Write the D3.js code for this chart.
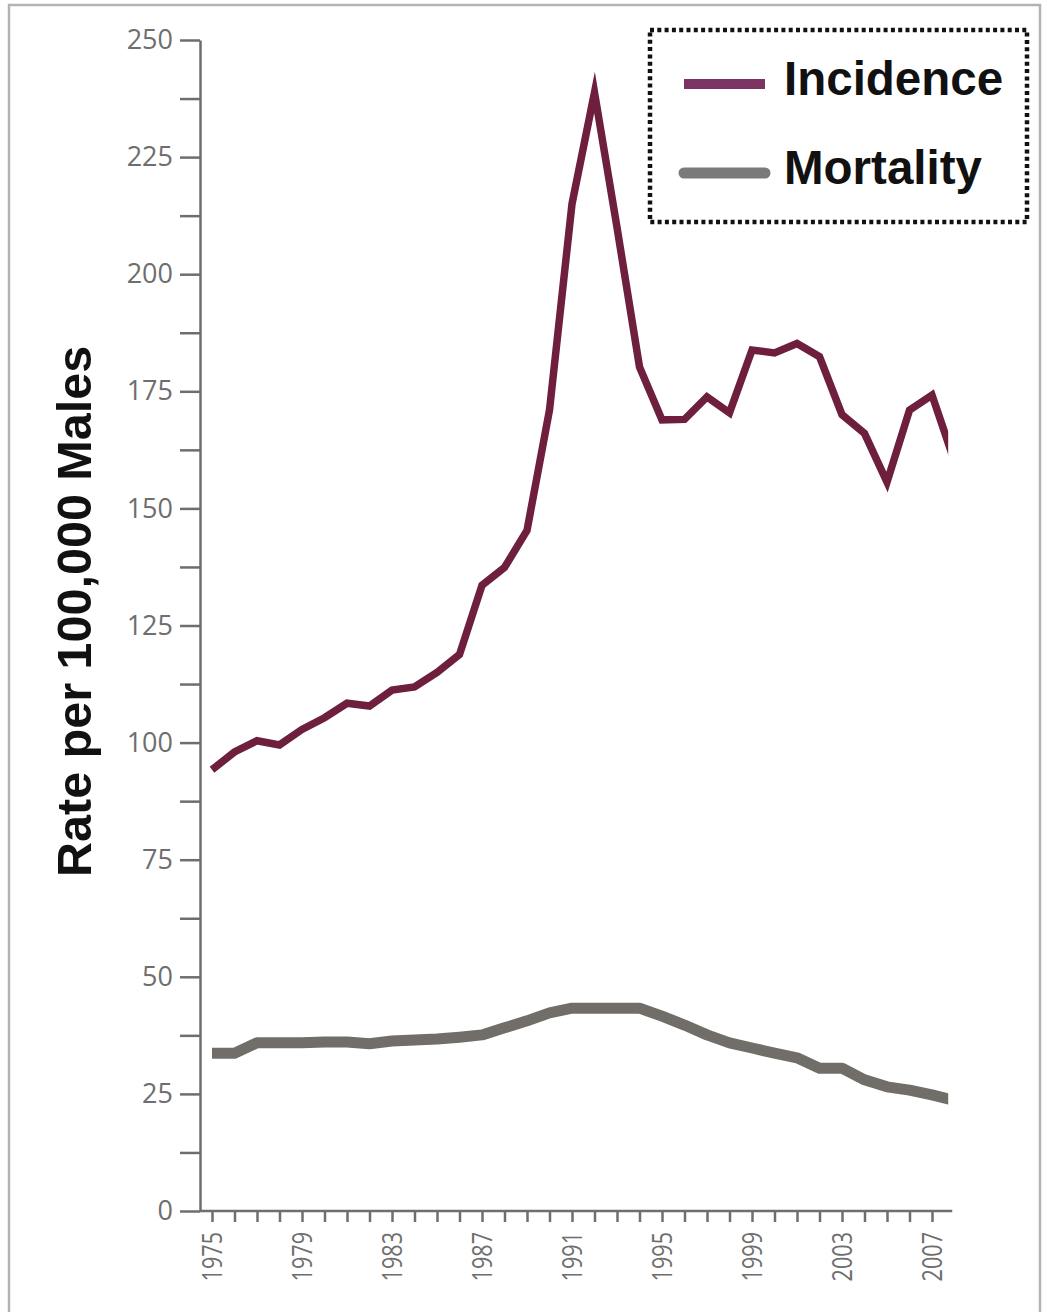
<!DOCTYPE html>
<html>
<head>
<meta charset="utf-8">
<script src="https://cdn.jsdelivr.net/npm/d3@7"></script>
<style>
  body { margin: 0; background: #fff; }
</style>
</head>
<body>
<div id="chart"></div>
<script>
// chart values
var years = d3.range(1975, 2009);
var incidence = [94.2, 98.0, 100.4, 99.5, 102.8, 105.3, 108.4, 107.8, 111.2, 111.9,
    115.0, 118.8, 133.6, 137.4, 145.3, 171.0, 215.0, 238.8, 210.0, 180.2,
    168.9, 169.0, 173.8, 170.4, 183.8, 183.2, 185.2, 182.4, 170.0, 166.0,
    155.6, 171.0, 174.2, 160.0];
var mortality = [33.7, 33.7, 35.9, 35.9, 35.9, 36.1, 36.1, 35.7, 36.3, 36.5,
    36.7, 37.1, 37.6, 39.1, 40.6, 42.3, 43.3, 43.3, 43.3, 43.3,
    41.6, 39.7, 37.6, 35.9, 34.8, 33.7, 32.7, 30.5, 30.5, 28.0,
    26.5, 25.8, 24.8, 23.6];
var yTicks = d3.range(0, 251, 12.5);
var xTicks = d3.range(1975, 2008);
var legendLabels = ["Incidence", "Mortality"];

(() => {

    var W = 1047, H = 1312;
    var axisColor = "#6e6e6e";
    var seriesColors = ["#6d1f3d", "#716d69"];
    var legendColors = ["#7b3462", "#7a7a7a"];

    var svg = d3.select("#chart")
        .append("svg")
        .attr("width", W)
        .attr("height", H);

    // outer frame of the figure
    svg.append("rect")
        .attr("x", 9).attr("y", 5)
        .attr("width", 1031).attr("height", H + 20)
        .attr("fill", "none")
        .attr("stroke", "#b3b3b3")
        .attr("stroke-width", 2.5);

    var x = d3.scaleLinear()
        .domain([1975, 2008])
        .range([212, 954.5]);

    var y = d3.scaleLinear()
        .domain([0, 250])
        .range([1211, 40]);

    var axisX0 = 200;

    // y axis
    var yAxis = svg.append("g")
        .attr("transform", "translate(" + axisX0 + ",0)")
        .call(d3.axisLeft(y)
            .tickValues(yTicks)
            .tickSize(20)
            .tickSizeOuter(0)
            .tickPadding(7)
            .tickFormat(function (d) { return d % 25 === 0 ? d : ""; }));

    yAxis.select(".domain").attr("stroke", axisColor).attr("stroke-width", 2.5);
    yAxis.selectAll(".tick line").attr("stroke", axisColor).attr("stroke-width", 2.5);
    yAxis.selectAll(".tick text")
        .attr("fill", axisColor)
        .style("font-family", "'Open Sans', sans-serif")
        .style("font-size", "27px");

    // x axis
    var xAxis = svg.append("g")
        .attr("transform", "translate(0," + y(0) + ")")
        .call(d3.axisBottom(x)
            .tickValues(xTicks)
            .tickSize(11)
            .tickSizeOuter(0)
            .tickFormat(function (d) { return (d - 1975) % 4 === 0 ? d : ""; }));

    xAxis.select(".domain").remove();
    xAxis.append("line")
        .attr("x1", axisX0)
        .attr("x2", x(2007.9))
        .attr("stroke", axisColor)
        .attr("stroke-width", 2.5);
    xAxis.selectAll(".tick line").attr("stroke", axisColor).attr("stroke-width", 2.5);
    xAxis.selectAll(".tick text")
        .attr("x", 0)
        .attr("y", 0)
        .attr("dy", "0.35em")
        .attr("transform", "translate(0,21) rotate(-90) scale(0.8,1)")
        .attr("fill", axisColor)
        .style("text-anchor", "end")
        .style("font-family", "'Open Sans', sans-serif")
        .style("font-size", "27px");

    // axis title
    svg.append("text")
        .text("Rate per 100,000 Males")
        .attr("transform", "translate(91," + (y(128)) + ") rotate(-90)")
        .style("text-anchor", "middle")
        .style("font-family", "'Liberation Sans', Arial, sans-serif")
        .style("font-weight", "bold")
        .style("font-size", "48.5px")
        .attr("fill", "#111");

    // lines end a little before 2008 in the original
    svg.append("clipPath")
        .attr("id", "plotclip")
        .append("rect")
        .attr("x", axisX0)
        .attr("y", 0)
        .attr("width", x(2007.72) - axisX0)
        .attr("height", H);

    var line = d3.line()
        .x(function (d) { return x(d.year); })
        .y(function (d) { return y(d.value); });

    var mortData = years.map(function (yr, i) { return { year: yr, value: mortality[i] }; });
    var incData = years.map(function (yr, i) { return { year: yr, value: incidence[i] }; });

    var plot = svg.append("g").attr("clip-path", "url(#plotclip)");

    plot.append("path")
        .datum(mortData)
        .attr("d", line)
        .attr("fill", "none")
        .attr("stroke", seriesColors[1])
        .attr("stroke-width", 11)
        .attr("stroke-linejoin", "round");

    plot.append("path")
        .datum(incData)
        .attr("d", line)
        .attr("fill", "none")
        .attr("stroke", seriesColors[0])
        .attr("stroke-width", 7.5)
        .attr("stroke-linejoin", "miter")
        .attr("stroke-miterlimit", 10);

    // legend
    var legend = svg.append("g");

    legend.append("rect")
        .attr("x", 650).attr("y", 30)
        .attr("width", 377).attr("height", 192)
        .attr("fill", "white")
        .attr("stroke", "#111")
        .attr("stroke-width", 4.5)
        .attr("stroke-dasharray", "4,3.3");

    var rows = legend.selectAll("g.item")
        .data(legendLabels)
        .enter()
        .append("g")
        .attr("class", "item")
        .attr("transform", function (d, i) { return "translate(0," + (84 + i * 89) + ")"; });

    rows.append("line")
        .attr("x1", 684).attr("x2", 765)
        .attr("stroke", function (d, i) { return legendColors[i]; })
        .attr("stroke-width", function (d, i) { return i === 0 ? 10 : 11; })
        .attr("stroke-linecap", function (d, i) { return i === 0 ? "butt" : "round"; });

    rows.append("text")
        .text(function (d) { return d; })
        .attr("x", 784)
        .attr("y", 11)
        .attr("fill", "#111")
        .style("font-family", "'Liberation Sans', Arial, sans-serif")
        .style("font-weight", "bold")
        .style("font-size", "47.5px");

})();
</script>
</body>
</html>
